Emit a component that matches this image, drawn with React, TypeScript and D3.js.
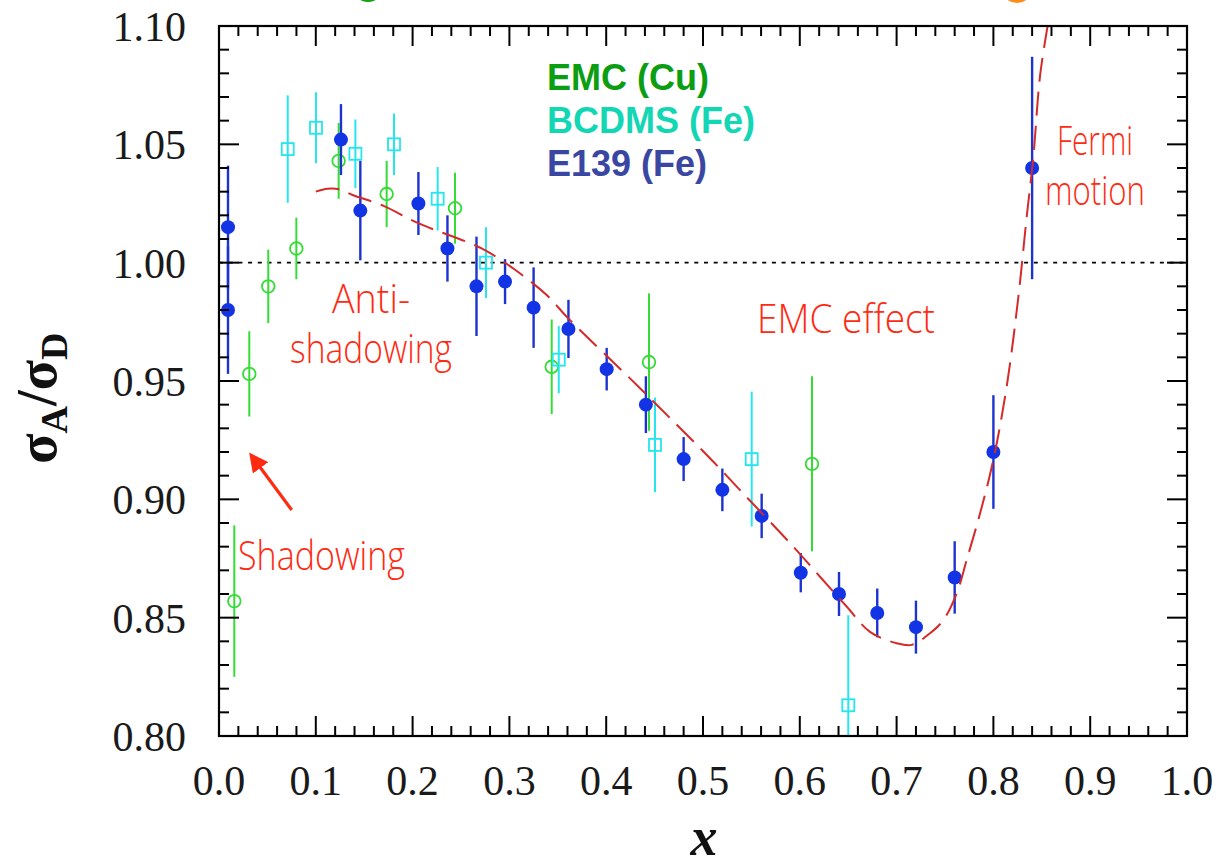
import React from 'react';
import * as d3 from 'd3';

// ---------- data ----------
const xTickValues = [0, 0.1, 0.2, 0.3, 0.4, 0.5, 0.6, 0.7, 0.8, 0.9, 1.0];
const xTickLabels = ['0.0', '0.1', '0.2', '0.3', '0.4', '0.5', '0.6', '0.7', '0.8', '0.9', '1.0'];
const yTickValues = [0.8, 0.85, 0.9, 0.95, 1.0, 1.05, 1.1];
const yTickLabels = ['0.80', '0.85', '0.90', '0.95', '1.00', '1.05', '1.10'];

// E139 (Fe) - filled blue circles
const e139X = [0.0093, 0.0093, 0.126, 0.146, 0.206, 0.236, 0.266, 0.2955, 0.325, 0.361, 0.4005, 0.441, 0.480, 0.520, 0.5606, 0.601, 0.6405, 0.680, 0.720, 0.760, 0.800, 0.840];
const e139Y = [1.015, 0.980, 1.052, 1.022, 1.025, 1.006, 0.990, 0.992, 0.981, 0.972, 0.955, 0.940, 0.917, 0.904, 0.893, 0.869, 0.860, 0.852, 0.846, 0.867, 0.920, 1.040];
const e139Err = [0.026, 0.027, 0.015, 0.021, 0.0133, 0.014, 0.021, 0.0095, 0.017, 0.0123, 0.009, 0.012, 0.0093, 0.009, 0.0094, 0.0083, 0.0093, 0.0103, 0.0112, 0.0153, 0.024, 0.047];

// EMC (Cu) - open green circles
const emcX = [0.0158, 0.0313, 0.0509, 0.0799, 0.1236, 0.1732, 0.2438, 0.3437, 0.4442, 0.6126];
const emcY = [0.857, 0.953, 0.990, 1.006, 1.043, 1.029, 1.023, 0.956, 0.958, 0.915];
const emcErr = [0.032, 0.018, 0.0155, 0.013, 0.016, 0.014, 0.015, 0.020, 0.029, 0.037];

// BCDMS (Fe) - open cyan squares
const bcdmsX = [0.071, 0.1002, 0.1409, 0.1808, 0.2259, 0.2758, 0.351, 0.4504, 0.5503, 0.6501];
const bcdmsY = [1.048, 1.057, 1.046, 1.050, 1.027, 1.000, 0.959, 0.923, 0.917, 0.813];
const bcdmsErr = [0.0227, 0.015, 0.0145, 0.013, 0.0134, 0.015, 0.0142, 0.020, 0.0285, 0.038];

// dashed theory curve
const curveX = [0.100, 0.112, 0.124, 0.138, 0.170, 0.199, 0.2146, 0.2713, 0.3058, 0.3385, 0.3607, 0.4246, 0.4521, 0.5107, 0.538, 0.5933, 0.6209, 0.6484, 0.6725, 0.7001, 0.7156, 0.7345, 0.7483, 0.7621, 0.7724, 0.7862, 0.7999, 0.8137, 0.8258, 0.8344, 0.8413, 0.8481, 0.856];
const curveY = [1.0300, 1.0312, 1.0310, 1.0286, 1.0240, 1.0180, 1.0152, 1.0060, 0.9970, 0.9863, 0.9765, 0.9511, 0.9400, 0.9159, 0.9040, 0.8800, 0.8673, 0.8547, 0.8440, 0.8392, 0.8385, 0.8434, 0.8490, 0.8603, 0.8744, 0.8940, 0.9166, 0.9476, 0.9856, 1.0194, 1.0448, 1.0786, 1.1000];

const legendLabels = ['EMC (Cu)', 'BCDMS (Fe)', 'E139 (Fe)'];
const legendColors = ['#0b9e12', '#12d6b4', '#3a47a2'];

// ---------- layout ----------
const W = 1220;
const H = 868;
const L = 219, R = 1187, T = 26, B = 736;

const x = d3.scaleLinear().domain([0, 1]).range([L, R]);
const y = d3.scaleLinear().domain([0.8, 1.1]).range([B, T]);

const xMinor = d3.range(0, 1.0001, 0.02);
const yMinor = d3.range(0.8, 1.1001, 0.01);
const isMajorX = (v: number) => Math.abs(v * 10 - Math.round(v * 10)) < 1e-6;
const isMajorY = (v: number) => Math.abs(v * 20 - Math.round(v * 20)) < 1e-6;

const BLUE = '#1234e4';
const BLUE_BAR = '#1d33cf';
const GREEN = '#35dc35';
const CYAN = '#25e6ee';
const RED = '#d42a2a';
const ANN = '#ff2a12';

const annFont = '"Open Sans", "Lato", sans-serif';
const numFont = '"Liberation Serif", "DejaVu Serif", serif';

export default function App() {
  const line = d3
    .line<number>()
    .x((_, i) => x(curveX[i]))
    .y((_, i) => y(curveY[i]))
    .curve(d3.curveCatmullRom.alpha(0.5));

  return (
    <svg
      width={W}
      height={H}
      viewBox={`0 0 ${W} ${H}`}
      style={{ position: 'absolute', left: 0, top: 0, background: '#fff' }}
    >
      <defs>
        <clipPath id="plotClip">
          <rect x={L} y={T} width={R - L} height={B - T} />
        </clipPath>
        <marker id="arrowHead" viewBox="0 0 10 10" refX="8" refY="5" markerWidth="6" markerHeight="6" orient="auto" markerUnits="strokeWidth">
          <path d="M0,0 L10,5 L0,10 z" fill={ANN} />
        </marker>
      </defs>
      <rect x={0} y={0} width={W} height={H} fill="#fff" />

      {/* partial decorative circles at the very top (cropped from a larger figure) */}
      <circle cx={368} cy={-14} r={16} fill="#11a011" />
      <circle cx={1017} cy={-13} r={16} fill="#ff8c14" />

      {/* dotted line at 1.0 */}
      <line x1={L} x2={R} y1={y(1)} y2={y(1)} stroke="#000" strokeWidth={1.6} strokeDasharray="4 5.7" />

      <g clipPath="url(#plotClip)">
        {/* EMC error bars & circles */}
        {emcX.map((v, i) => (
          <g key={'emc' + i}>
            <line x1={x(v)} x2={x(v)} y1={y(emcY[i] - emcErr[i])} y2={y(emcY[i] + emcErr[i])} stroke={GREEN} strokeWidth={2} />
            <circle cx={x(v)} cy={y(emcY[i])} r={6.3} fill="#fff" fillOpacity={0} stroke={GREEN} strokeWidth={1.8} />
          </g>
        ))}
        {/* BCDMS */}
        {bcdmsX.map((v, i) => (
          <g key={'bc' + i}>
            <line x1={x(v)} x2={x(v)} y1={y(bcdmsY[i] - bcdmsErr[i])} y2={y(bcdmsY[i] + bcdmsErr[i])} stroke={CYAN} strokeWidth={2} />
            <rect x={x(v) - 6} y={y(bcdmsY[i]) - 6} width={12} height={12} fill="none" stroke={CYAN} strokeWidth={1.8} />
          </g>
        ))}
        {/* E139 */}
        {e139X.map((v, i) => (
          <g key={'e' + i}>
            <line x1={x(v)} x2={x(v)} y1={y(e139Y[i] - e139Err[i])} y2={y(e139Y[i] + e139Err[i])} stroke={BLUE_BAR} strokeWidth={2.4} />
            <circle cx={x(v)} cy={y(e139Y[i])} r={7} fill={BLUE} />
          </g>
        ))}
        {/* theory curve */}
        <path d={line(curveX) || ''} fill="none" stroke={RED} strokeWidth={2} strokeDasharray="24 10" />
      </g>

      {/* frame */}
      <rect x={L} y={T} width={R - L} height={B - T} fill="none" stroke="#000" strokeWidth={2.2} />

      {/* x ticks (bottom and top, inward) */}
      {xMinor.map((v, i) => {
        const len = isMajorX(v) ? 20 : 10;
        const px = x(v);
        return (
          <g key={'xt' + i} stroke="#000" strokeWidth={2}>
            <line x1={px} x2={px} y1={B} y2={B - len} />
            <line x1={px} x2={px} y1={T} y2={T + len} />
          </g>
        );
      })}
      {/* y ticks (left and right, inward) */}
      {yMinor.map((v, i) => {
        const len = isMajorY(v) ? 20 : 10;
        const py = y(v);
        return (
          <g key={'yt' + i} stroke="#000" strokeWidth={2}>
            <line x1={L} x2={L + len} y1={py} y2={py} />
            <line x1={R} x2={R - len} y1={py} y2={py} />
          </g>
        );
      })}

      {/* tick labels */}
      {xTickValues.map((v, i) => (
        <text key={'xl' + i} x={x(v)} y={795} textAnchor="middle" fontFamily={numFont} fontSize={42} fill="#1a1a1a">
          {xTickLabels[i]}
        </text>
      ))}
      {yTickValues.map((v, i) => (
        <text key={'yl' + i} x={186} y={y(v) + 15} textAnchor="end" fontFamily={numFont} fontSize={42} fill="#1a1a1a">
          {yTickLabels[i]}
        </text>
      ))}

      {/* axis titles */}
      <text x={704} y={855} textAnchor="middle" fontFamily={numFont} fontWeight="bold" fontStyle="italic" fontSize={54} fill="#111">
        x
      </text>
      <text transform="translate(56,464) rotate(-90)" fontFamily={numFont} fontWeight="bold" fill="#111">
        <tspan fontSize={56}>σ</tspan>
        <tspan fontSize={38} dy={11}>A</tspan>
        <tspan fontSize={56} dy={-11}>/σ</tspan>
        <tspan fontSize={38} dy={11}>D</tspan>
      </text>

      {/* legend */}
      {legendLabels.map((s, i) => (
        <text key={'lg' + i} x={547} y={90 + i * 43} fontFamily='"Liberation Sans", Arial, sans-serif' fontWeight="bold" fontSize={36} fill={legendColors[i]}>
          {s}
        </text>
      ))}

      {/* annotations */}
      <g fill={ANN} fontFamily={annFont} fontWeight={300}>
        <text x={371} y={313} textAnchor="middle" fontSize={40} textLength={78} lengthAdjust="spacingAndGlyphs">Anti-</text>
        <text x={371} y={363} textAnchor="middle" fontSize={40} textLength={162} lengthAdjust="spacingAndGlyphs">shadowing</text>
        <text x={321.5} y={570} textAnchor="middle" fontSize={40} textLength={167} lengthAdjust="spacingAndGlyphs">Shadowing</text>
        <text x={846} y={333} textAnchor="middle" fontSize={40} textLength={178} lengthAdjust="spacingAndGlyphs">EMC effect</text>
        <text x={1095} y={155} textAnchor="middle" fontSize={40} textLength={76} lengthAdjust="spacingAndGlyphs">Fermi</text>
        <text x={1095} y={205} textAnchor="middle" fontSize={40} textLength={100} lengthAdjust="spacingAndGlyphs">motion</text>
      </g>
      <line
        x1={x(0.0751)}
        y1={y(0.8955)}
        x2={x(0.0335)}
        y2={y(0.9185)}
        stroke={ANN}
        strokeWidth={3.2}
        markerEnd="url(#arrowHead)"
      />
    </svg>
  );
}
